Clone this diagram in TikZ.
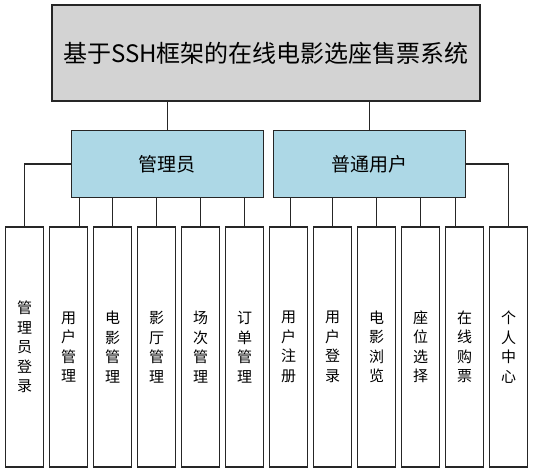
\documentclass[tikz,border=0pt]{standalone}
\usepackage{fontspec}
\newfontfamily\cjk{Noto Sans CJK SC}
\definecolor{sysgray}{RGB}{211,211,211}
\definecolor{roleblue}{RGB}{173,216,230}
\begin{document}
\begin{tikzpicture}[x=1pt, y=-1pt, line width=1.3pt, draw=black!85,
    sysbox/.style={draw=black!85, fill=sysgray, minimum width=428pt, minimum height=96pt,
        inner sep=0pt, font=\cjk\fontsize{24}{29}\selectfont},
    rolebox/.style={draw=black!85, fill=roleblue, minimum width=192pt, minimum height=67.4pt,
        inner sep=0pt, font=\cjk\fontsize{19}{24}\selectfont},
    funcbox/.style={draw=black!85, fill=white, minimum width=38pt, minimum height=240pt,
        inner sep=0pt, align=center, font=\cjk\fontsize{15}{19.5}\selectfont}]
    \useasboundingbox (0,0) rectangle (533,473);

    \node [sysbox] (sys) at (265.9, 53) {基于SSH框架的在线电影选座售票系统};

    \node [rolebox] (admin) at (167.2, 164) {管理员};
    \node [rolebox] (user) at (369.7, 164) {普通用户};
    \draw (admin.north) -- (admin.north |- sys.south);
    \draw (user.north) -- (user.north |- sys.south);

    % admin functions
    \node [funcbox] (a1) at (24.5, 347) {管\\理\\员\\登\\录};
    \node [funcbox] (a2) at (68.5, 347) {用\\户\\管\\理};
    \node [funcbox] (a3) at (112.5, 347) {电\\影\\管\\理};
    \node [funcbox] (a4) at (156.5, 347) {影\\厅\\管\\理};
    \node [funcbox] (a5) at (200.5, 347) {场\\次\\管\\理};
    \node [funcbox] (a6) at (244.5, 347) {订\\单\\管\\理};

    \draw (admin.west) -| (a1.north);
    \draw ([xshift=11pt]a2.north) -- ([xshift=11pt]a2.north |- admin.south);
    \draw (a3.north) -- (a3.north |- admin.south);
    \draw (a4.north) -- (a4.north |- admin.south);
    \draw (a5.north) -- (a5.north |- admin.south);
    \draw (a6.north) -- (a6.north |- admin.south);

    % user functions
    \node [funcbox] (u1) at (288.5, 347) {用\\户\\注\\册};
    \node [funcbox] (u2) at (332.5, 347) {用\\户\\登\\录};
    \node [funcbox] (u3) at (376.5, 347) {电\\影\\浏\\览};
    \node [funcbox] (u4) at (420.5, 347) {座\\位\\选\\择};
    \node [funcbox] (u5) at (464.5, 347) {在\\线\\购\\票};
    \node [funcbox] (u6) at (508.5, 347) {个\\人\\中\\心};

    \draw ([xshift=2pt]u1.north) -- ([xshift=2pt]u1.north |- user.south);
    \draw (u2.north) -- (u2.north |- user.south);
    \draw (u3.north) -- (u3.north |- user.south);
    \draw (u4.north) -- (u4.north |- user.south);
    \draw ([xshift=-9pt]u5.north) -- ([xshift=-9pt]u5.north |- user.south);
    \draw (user.east) -| (u6.north);

\end{tikzpicture}
\end{document}
